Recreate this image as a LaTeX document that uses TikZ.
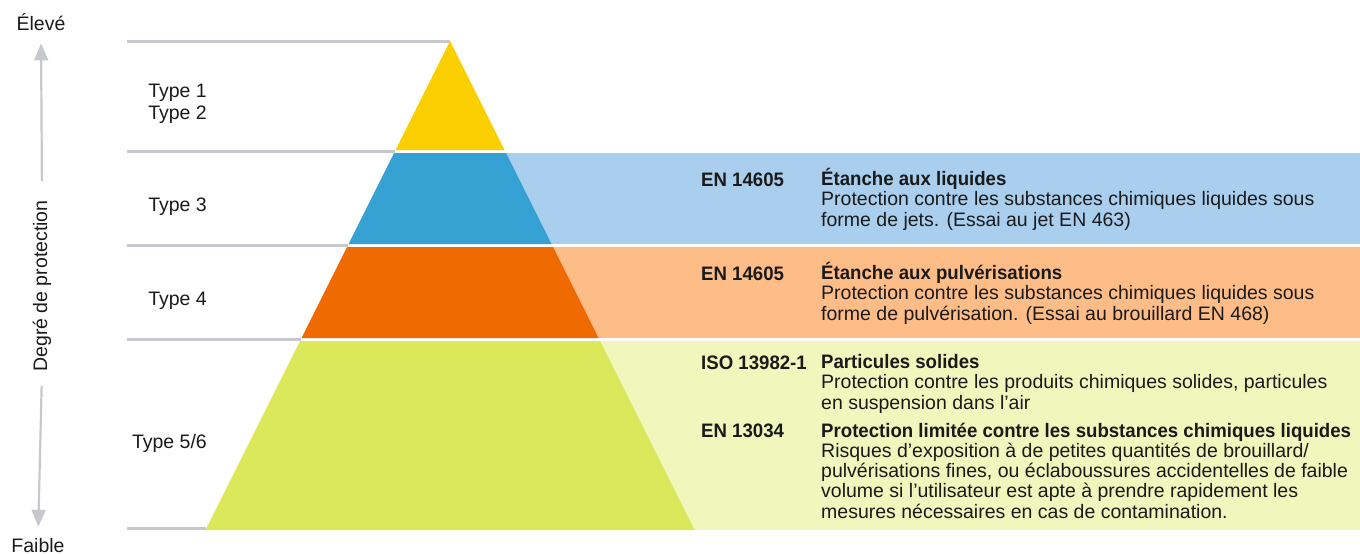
\documentclass[tikz,border=0pt]{standalone}
\usepackage{fontspec}
\setmainfont{Liberation Sans}[BoldFeatures={FakeStretch=0.955}]
\usetikzlibrary{arrows.meta}

\definecolor{ink}{HTML}{1A1A1A}
\definecolor{rulegray}{HTML}{C6C8CE}
\definecolor{typeyellow}{HTML}{FCD000}
\definecolor{typeblue}{HTML}{36A1D3}
\definecolor{paleblue}{HTML}{AACFEE}
\definecolor{typeorange}{HTML}{EF6A00}
\definecolor{paleorange}{HTML}{FEBD87}
\definecolor{typegreen}{HTML}{DAE85A}
\definecolor{palegreen}{HTML}{F0F6BC}

\newcommand\bodysize{\fontsize{19.5}{20.2}\selectfont}

\tikzset{
  level/.style={draw=rulegray, line width=3pt},
  axis/.style={draw=rulegray, line width=2.2pt, -{Triangle[width=14pt,length=17pt]}},
  typelabel/.style={anchor=base east, align=right, inner sep=0pt},
  norm/.style={anchor=base west, inner sep=0pt, font=\bodysize\bfseries},
  desc/.style={anchor=base west, align=left, inner sep=0pt},
}

\begin{document}
\begin{tikzpicture}[x=1pt, y=-1pt, text=ink, font=\bodysize]
  \useasboundingbox (0,0) rectangle (1360,554);

  % pale bands behind the text
  \fill[paleblue]   (450,153) rectangle (1360,244);
  \fill[paleorange] (450,247) rectangle (1360,338);
  \fill[palegreen]  (450,341) rectangle (1360,530);

  % pyramid
  \fill[typeyellow] (450,41) -- (504.5,150) -- (395.5,150) -- cycle;
  \fill[typeblue]   (394,153) -- (506,153) -- (551.5,244) -- (348.5,244) -- cycle;
  \fill[typeorange] (347,247) -- (553,247) -- (598.5,338) -- (301.5,338) -- cycle;
  \fill[typegreen]  (300,341) -- (600,341) -- (694.5,530) -- (205.5,530) -- cycle;

  % levels
  \draw[level] (127,41) -- (450,41);
  \draw[level] (127,151.5) -- (395,151.5);
  \draw[level] (127,245.5) -- (348,245.5);
  \draw[level] (127,339.5) -- (301,339.5);
  \draw[level] (127,528.5) -- (206,528.5);

  % axis
  \node[anchor=base, inner sep=0pt] (eleve) at (41,30) {Élevé};
  \node[anchor=base, inner sep=0pt] (faible) at (38,552) {Faible};
  \node[rotate=90, inner sep=0pt] (degre) at (42,286) {Degré de protection};
  \draw[axis, shorten <=19pt, shorten >=13pt] (degre.east) -- (eleve.south);
  \draw[axis, shorten <=14pt, shorten >=11pt] (degre.west) -- (faible.north);

  % types (base = last line)
  \node[typelabel] (type12) at (207,119) {Type 1\\[1.8pt]Type 2};
  \node[typelabel] (type3) at (207,211) {Type 3};
  \node[typelabel] (type4) at (207,305) {Type 4};
  \node[typelabel] (type56) at (207,448) {Type 5/6};

  % standards (base = last line)
  \node[norm] (en3) at (701,186) {EN 14605};
  \node[desc] (en3txt) at (821,226) {\textbf{Étanche aux liquides}\\
    Protection contre les substances chimiques liquides sous\\
    forme de jets. (Essai au jet EN 463)};
  \node[norm] (en4) at (701,280) {EN 14605};
  \node[desc] (en4txt) at (821,320) {\textbf{Étanche aux pulvérisations}\\
    Protection contre les substances chimiques liquides sous\\
    forme de pulvérisation. (Essai au brouillard EN 468)};
  \node[norm] (iso5) at (701,369) {ISO 13982-1};
  \node[desc] (iso5txt) at (821,409) {\textbf{Particules solides}\\
    Protection contre les produits chimiques solides, particules\\
    en suspension dans l’air};
  \node[norm] (en6) at (701,437) {EN 13034};
  \node[desc] (en6txt) at (821,518) {\textbf{Protection limitée contre les substances chimiques liquides}\\
    Risques d’exposition à de petites quantités de brouillard/\\
    pulvérisations fines, ou éclaboussures accidentelles de faible\\
    volume si l’utilisateur est apte à prendre rapidement les\\
    mesures nécessaires en cas de contamination.};
\end{tikzpicture}
\end{document}
